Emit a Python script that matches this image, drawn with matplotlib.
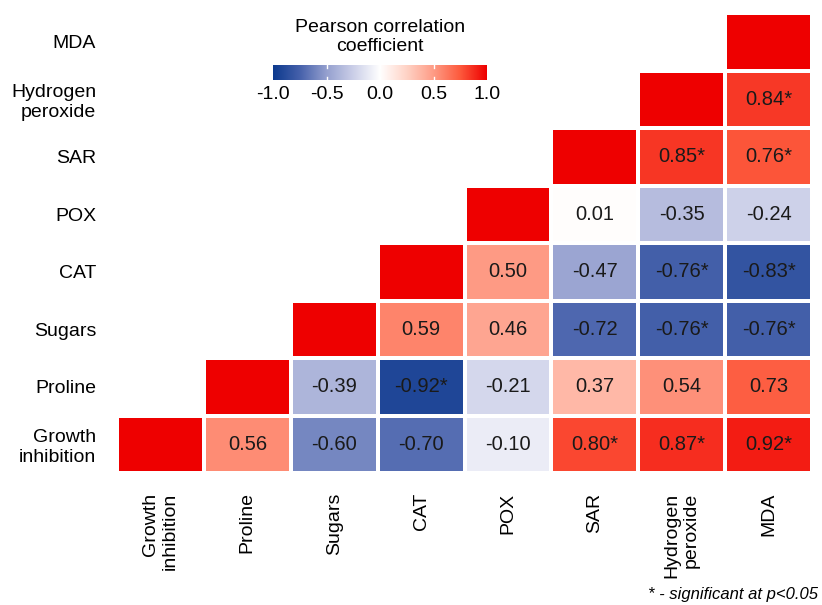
import numpy as np
import matplotlib
matplotlib.use("Agg")
import matplotlib.pyplot as plt
from matplotlib.colors import LinearSegmentedColormap

plt.rcParams['font.family'] = ['Liberation Sans', 'DejaVu Sans']

labels = ["Growth\ninhibition", "Proline", "Sugars", "CAT", "POX", "SAR",
          "Hydrogen\nperoxide", "MDA"]

# rows from bottom (Growth inhibition) to top (MDA); NaN = not shown
r_growth = [1.00, 0.56, -0.60, -0.70, -0.10, 0.80, 0.87, 0.92]
r_proline = [np.nan, 1.00, -0.39, -0.92, -0.21, 0.37, 0.54, 0.73]
r_sugars = [np.nan, np.nan, 1.00, 0.59, 0.46, -0.72, -0.76, -0.76]
r_cat = [np.nan, np.nan, np.nan, 1.00, 0.50, -0.47, -0.76, -0.83]
r_pox = [np.nan] * 4 + [1.00, 0.01, -0.35, -0.24]
r_sar = [np.nan] * 5 + [1.00, 0.85, 0.76]
r_h2o2 = [np.nan] * 6 + [1.00, 0.84]
r_mda = [np.nan] * 7 + [1.00]

# significance flags (p < 0.05)
s_growth = [0, 0, 0, 0, 0, 1, 1, 1]
s_proline = [0, 0, 0, 1, 0, 0, 0, 0]
s_sugars = [0, 0, 0, 0, 0, 0, 1, 1]
s_cat = [0, 0, 0, 0, 0, 0, 1, 1]
s_pox = [0, 0, 0, 0, 0, 0, 0, 0]
s_sar = [0, 0, 0, 0, 0, 0, 1, 1]
s_h2o2 = [0, 0, 0, 0, 0, 0, 0, 1]
s_mda = [0] * 8

corr = np.array([r_growth, r_proline, r_sugars, r_cat, r_pox, r_sar, r_h2o2, r_mda])
sig = np.array([s_growth, s_proline, s_sugars, s_cat, s_pox, s_sar, s_h2o2, s_mda])

cmap = LinearSegmentedColormap.from_list("rb", [
    (0.000, "#0d3a8e"), (0.125, "#4661ab"), (0.250, "#95a0cf"),
    (0.375, "#cbcfe8"), (0.500, "#ffffff"), (0.625, "#ffd3c6"),
    (0.750, "#fe9c86"), (0.875, "#fd5a3d"), (1.000, "#ee0000")])

fig = plt.figure(figsize=(8.22, 6.05), dpi=100)
ax = fig.add_axes([117 / 822, 1 - 473 / 605, 695 / 822, 460 / 605])

n = len(labels)
masked = np.ma.masked_invalid(corr)
ax.pcolormesh(np.arange(n + 1), np.arange(n + 1), masked, cmap=cmap,
              vmin=-1, vmax=1, edgecolors="white", linewidth=1.5)

for i in range(n):
    for j in range(n):
        v = corr[i, j]
        if np.isnan(v) or i == j:
            continue
        txt = f"{v:.2f}" + ("*" if sig[i, j] else "")
        ax.text(j + 0.5, i + 0.5, txt, ha="center", va="center",
                fontsize=14.5, color="#1a1a1a")

ax.set_xlim(0, n)
ax.set_ylim(0, n)
ax.set_xticks(np.arange(n) + 0.5)
ax.set_yticks(np.arange(n) + 0.5)
ax.set_xticklabels(labels, rotation=90, fontsize=14, ha="center", va="top",
                   multialignment="right")
ax.set_yticklabels(labels, fontsize=14, multialignment="right")
ax.tick_params(length=0, pad=15)
ax.tick_params(axis="x", pad=14)
for sp in ax.spines.values():
    sp.set_visible(False)

# colorbar
cax = fig.add_axes([273 / 822, 1 - 80 / 605, 214 / 822, 15 / 605])
grad = np.linspace(-1, 1, 256).reshape(1, -1)
cax.imshow(grad, cmap=cmap, aspect="auto", extent=[-1, 1, 0, 1])
cb_ticks = [-1.0, -0.5, 0.0, 0.5, 1.0]
for t in cb_ticks[1:-1]:
    cax.plot([t, t], [0, 0.2], color="white", lw=1)
    cax.plot([t, t], [0.8, 1], color="white", lw=1)
cax.set_xlim(-1, 1)
cax.set_ylim(0, 1)
cax.set_xticks(cb_ticks)
cax.set_xticklabels([f"{t:.1f}" for t in cb_ticks], fontsize=14)
cax.set_yticks([])
cax.tick_params(length=0, pad=4)
for sp in cax.spines.values():
    sp.set_visible(False)
fig.text(380 / 822, 1 - 37 / 605, "Pearson correlation\ncoefficient",
         ha="center", va="center", fontsize=14, linespacing=1.2)

fig.text(818 / 822, 1 - 595 / 605, "* - significant at p<0.05",
         ha="right", va="center", fontsize=12, style="italic")

fig.savefig("out.png", dpi=100)
